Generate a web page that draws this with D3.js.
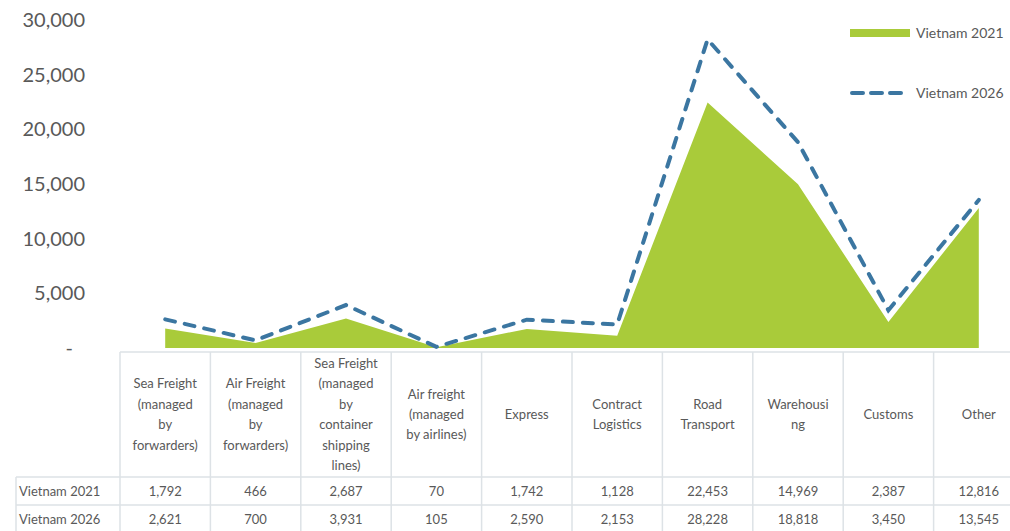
<!DOCTYPE html>
<html>
<head>
<meta charset="utf-8">
<script src="https://cdn.jsdelivr.net/npm/d3@7"></script>
<style>
  body { margin: 0; background: #fff; }
  text { font-family: Lato, "Open Sans", sans-serif; fill: #595959; }
</style>
</head>
<body>
<script>
var categories = ["Sea Freight", "Air Freight", "Sea Freight container", "Air freight airlines",
  "Express", "Contract Logistics", "Road Transport", "Warehousing", "Customs", "Other"];
var headerLines = [
  ["Sea Freight", "(managed", "by", "forwarders)"],
  ["Air Freight", "(managed", "by", "forwarders)"],
  ["Sea Freight", "(managed", "by", "container", "shipping", "lines)"],
  ["Air freight", "(managed", "by airlines)"],
  ["Express"],
  ["Contract", "Logistics"],
  ["Road", "Transport"],
  ["Warehousi", "ng"],
  ["Customs"],
  ["Other"]
];
var vietnam2021 = [1792, 466, 2687, 70, 1742, 1128, 22453, 14969, 2387, 12816];
var vietnam2026 = [2621, 700, 3931, 105, 2590, 2153, 28228, 18818, 3450, 13545];
var seriesNames = ["Vietnam 2021", "Vietnam 2026"];
var yTicks = [0, 5000, 10000, 15000, 20000, 25000, 30000];

var W = 1010, H = 531;
var green = "#a9cb3a", blue = "#3b76a1", grid = "#dde2e6";

var svg = d3.select("body").append("svg")
  .attr("width", W).attr("height", H);

var x = d3.scaleBand().domain(categories).range([120, 120 + 90.4 * 10]);
var y = d3.scaleLinear().domain([0, 30000]).range([348, 20]);
var cx = function(c) { return x(c) + x.bandwidth() / 2; };

// y axis
var yAxis = svg.append("g")
  .attr("transform", "translate(85,0)")
  .call(d3.axisLeft(y).tickValues(yTicks).tickSize(0).tickPadding(0)
    .tickFormat(function(d) { return d === 0 ? "-" : d3.format(",")(d); }));
yAxis.select(".domain").remove();
yAxis.selectAll("text")
  .style("font-size", "20px")
  .attr("fill", "#5f5f5f")
  .attr("dx", function(d) { return d === 0 ? -12 : 0; });

// area for 2021
var area = d3.area()
  .x(function(d, i) { return cx(categories[i]); })
  .y0(y(0))
  .y1(function(d) { return y(d); });
svg.append("path")
  .datum(vietnam2021)
  .attr("d", area)
  .attr("fill", green);

// dashed line for 2026
var line = d3.line()
  .x(function(d, i) { return cx(categories[i]); })
  .y(function(d) { return y(d); });
svg.append("path")
  .datum(vietnam2026)
  .attr("d", line)
  .attr("fill", "none")
  .attr("stroke", blue)
  .attr("stroke-width", 4)
  .attr("stroke-dasharray", "10,10")
  .attr("stroke-linecap", "round");

// legend
var lg = svg.append("g");
lg.append("rect").attr("x", 850).attr("y", 29).attr("width", 60).attr("height", 8).attr("fill", green);
lg.append("text").attr("x", 916).attr("y", 38).style("font-size", "14px").text(seriesNames[0]);
lg.append("line").attr("x1", 852).attr("x2", 908).attr("y1", 93).attr("y2", 93)
  .attr("stroke", blue).attr("stroke-width", 4).attr("stroke-dasharray", "11,8").attr("stroke-linecap", "round");
lg.append("text").attr("x", 916).attr("y", 98).style("font-size", "14px").text(seriesNames[1]);

// table
var tTop = 352, tHead = 477, tRow1 = 505, tRow2 = 533, tLeft = 16;
var tb = svg.append("g");
var x0 = x.range()[0], x1 = x.range()[1];
tb.append("line").attr("x1", x0).attr("x2", x1).attr("y1", tTop).attr("y2", tTop);
[tHead, tRow1, tRow2].forEach(function(yy) {
  tb.append("line").attr("x1", tLeft).attr("x2", x1).attr("y1", yy).attr("y2", yy);
});
tb.append("line").attr("x1", tLeft).attr("x2", tLeft).attr("y1", tHead).attr("y2", tRow2);
categories.forEach(function(c) {
  tb.append("line").attr("x1", x(c)).attr("x2", x(c)).attr("y1", tTop).attr("y2", tRow2);
});
tb.append("line").attr("x1", x1).attr("x2", x1).attr("y1", tTop).attr("y2", tRow2);
tb.selectAll("line").attr("stroke", grid).attr("stroke-width", 1.5);

// header labels
var lh = 20.4, midY = 414;
categories.forEach(function(c, i) {
  var lines = headerLines[i];
  var t = tb.append("text")
    .attr("text-anchor", "middle")
    .style("font-size", "13px");
  lines.forEach(function(s, k) {
    t.append("tspan")
      .attr("x", cx(c))
      .attr("y", midY + (k - (lines.length - 1) / 2) * lh + 5)
      .text(s);
  });
});

// data rows
[[vietnam2021, tHead], [vietnam2026, tRow1]].forEach(function(r, ri) {
  var yy = r[1] + 19;
  tb.append("text").attr("x", tLeft + 3).attr("y", yy).style("font-size", "13px").text(seriesNames[ri]);
  r[0].forEach(function(v, i) {
    tb.append("text").attr("x", cx(categories[i])).attr("y", yy)
      .attr("text-anchor", "middle").style("font-size", "13px")
      .text(d3.format(",")(v));
  });
});
</script>
</body>
</html>
